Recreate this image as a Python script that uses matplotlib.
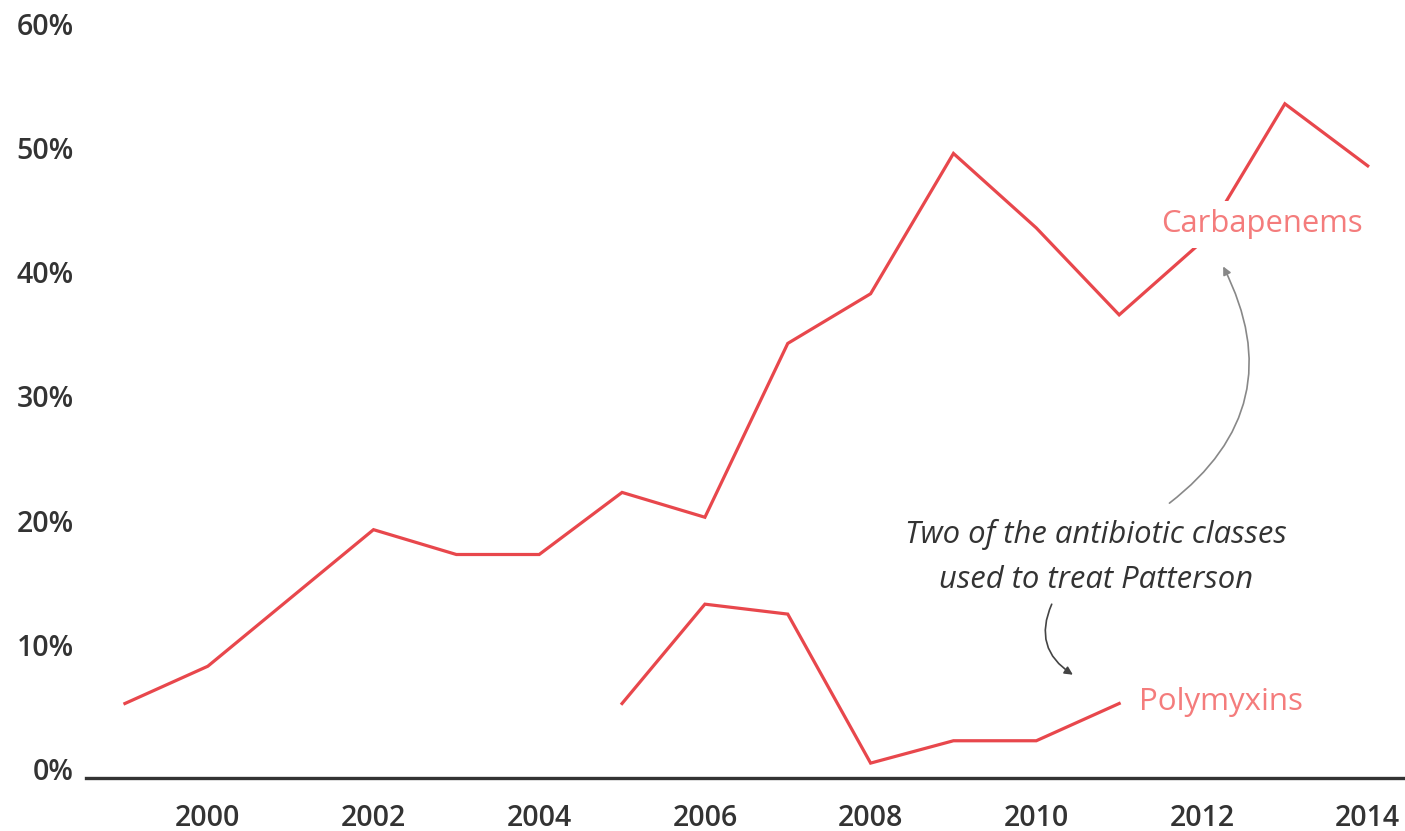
import matplotlib.pyplot as plt
from matplotlib.transforms import ScaledTranslation

# values (percent)
carb_years = [1999, 2000, 2001, 2002, 2003, 2004, 2005, 2006, 2007,
              2008, 2009, 2010, 2011, 2012, 2013, 2014]
carb_vals = [6, 9, 14.5, 20, 18, 18, 23, 21, 35, 39, 50.3, 44.3, 37.3, 43.2, 54.3, 49.3]
poly_years = [2005, 2006, 2007, 2008, 2009, 2010, 2011]
poly_vals = [6, 14, 13.2, 1.2, 3, 3, 6]
y_ticks = [0, 10, 20, 30, 40, 50, 60]
x_ticks = [2000, 2002, 2004, 2006, 2008, 2010, 2012, 2014]

plt.rcParams['font.family'] = ['Open Sans', 'DejaVu Sans']

line_col = '#e8474c'
label_col = '#f47c7c'
text_col = '#333333'

fig = plt.figure(figsize=(14.05, 8.31), dpi=100)
ax = fig.add_axes([86/1405, 53/831, 1319/1405, 745/831])

ax.plot(carb_years, carb_vals, color=line_col, lw=2.3, solid_joinstyle='miter')
ax.plot(poly_years, poly_vals, color=line_col, lw=2.3, solid_joinstyle='miter')

ax.set_xlim(1998.53, 2014.45)
ax.set_ylim(0, 60)

for s in ['top', 'right', 'left']:
	ax.spines[s].set_visible(False)
ax.spines['bottom'].set_color(text_col)
ax.spines['bottom'].set_linewidth(2.4)

ax.set_xticks(x_ticks)
ax.set_xticklabels([str(x) for x in x_ticks])
ax.set_yticks(y_ticks)
ax.set_yticklabels([f'{v}%' for v in y_ticks])
ax.tick_params(axis='both', length=0, labelsize=20.5, labelcolor=text_col)
ax.tick_params(axis='x', pad=18.5)
ax.tick_params(axis='y', pad=9)
for lab in ax.get_xticklabels() + ax.get_yticklabels():
	lab.set_fontweight('semibold')
# y labels sit a little above their value
for lab in ax.get_yticklabels():
	lab.set_transform(lab.get_transform() + ScaledTranslation(0, 9/100, fig.dpi_scale_trans))

# white box behind the label hides the line under it
ax.text(2012.72, 44.6, 'Carbapenems', color=label_col, fontsize=22.3,
        ha='center', va='center',
        bbox=dict(facecolor='white', edgecolor='none', pad=6))
ax.text(2012.23, 6.1, 'Polymyxins', color=label_col, fontsize=22.5,
        ha='center', va='center')

ax.text(2010.72, 17.8, 'Two of the antibiotic classes\nused to treat Patterson',
        color=text_col, fontsize=22.3, style='italic', ha='center', va='center',
        linespacing=1.65)

ax.annotate('', xy=(2012.24, 41.4), xytext=(2011.58, 22.0),
            arrowprops=dict(arrowstyle='-|>', color='#888888', lw=1.2,
                            connectionstyle='arc3,rad=0.42', mutation_scale=12))
ax.annotate('', xy=(2010.47, 8.2), xytext=(2010.2, 14.2),
            arrowprops=dict(arrowstyle='-|>', color='#444444', lw=1.2,
                            connectionstyle='arc3,rad=0.45', mutation_scale=12))

plt.savefig('out.png', dpi=100)
